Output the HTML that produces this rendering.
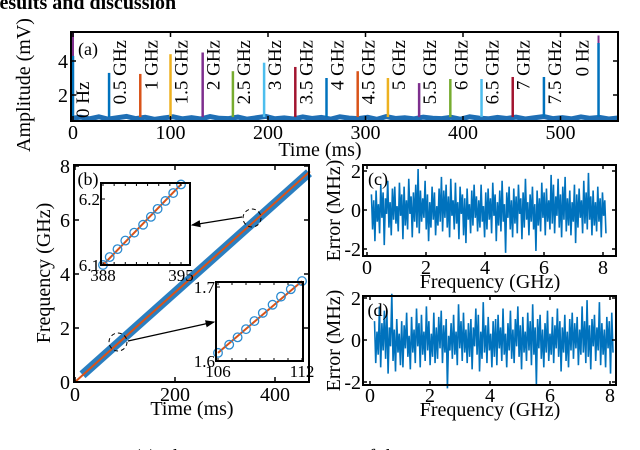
<!DOCTYPE html>
<html><head><meta charset="utf-8"><style>
html,body{margin:0;padding:0;background:#fff;width:640px;height:450px;overflow:hidden}
svg{display:block;font-family:"Liberation Serif",serif}
</style></head><body>
<svg id="fig" width="640" height="450" viewBox="0 0 640 450">
<text x="-15" y="9" font-size="20" font-weight="bold">Results and discussion</text>
<text x="134" y="463" font-size="20">(a) The … measurement … of the PD … DT in</text>
<g id="pa"></g>
<g id="pb"></g>
<g id="pc"></g>
<g id="pd"></g>
</svg>
<script>
// ---- Panel (a) data ----
const pulseTimes = [0, 37, 69, 100, 133, 164, 196, 228, 260, 292, 323, 355, 387, 419, 451, 483, 539];
const pulseHeights = [4.3, 3.3, 3.24, 4.4, 4.5, 3.4, 3.9, 3.65, 3.0, 3.4, 3.0, 2.7, 2.94, 2.94, 3.06, 3.06, 5.06];
const pulseLabels = ["0 Hz","0.5 GHz","1 GHz","1.5 GHz","2 GHz","2.5 GHz","3 GHz","3.5 GHz","4 GHz","4.5 GHz","5 GHz","5.5 GHz","6 GHz","6.5 GHz","7 GHz","7.5 GHz","0 Hz"];
const aXTicks = [0, 100, 200, 300, 400, 500];
const aYTicks = [2, 4];
const aNoise = [0.62,0.7,0.6,0.72,0.58,0.66,0.74,0.61,0.69,0.57,0.65,0.72,0.6,0.67,0.59,0.73,0.63,0.61,0.7,0.58,0.66,0.74,0.6,0.65,0.59,0.71,0.62,0.68,0.58,0.72,0.64,0.61,0.69,0.57,0.73,0.62,0.66,0.6,0.7,0.63,0.61,0.69,0.58,0.72,0.64,0.6,0.68,0.62,0.7,0.59,0.66,0.73,0.61,0.67,0.6,0.71,0.63,0.68,0.59,0.65];
// ---- Panel (b) data ----
const bLineT = [0, 470];
const bLineF = [0, 7.8];
const bBandT = [15, 468];
const bBandF = [0.27, 7.75];
const bXTicks = [0, 200, 400];
const bYTicks = [0, 2, 4, 6, 8];
const in1T = [388.0,388.6,389.3,390.0,390.8,391.6,392.3,392.9,393.6,394.3,395.0];
const in1F = [6.100,6.112,6.124,6.137,6.149,6.161,6.173,6.185,6.197,6.209,6.222];
const in2T = [106.0,106.8,107.4,108.0,108.6,109.2,109.9,110.5,111.2,112.0];
const in2F = [1.611,1.622,1.632,1.643,1.654,1.665,1.676,1.687,1.697,1.708];
// ---- Panel (c)/(d) data ----
const errFreqStart = 0.15, errFreqEnd = 8.1;
const errC = [0.8,-1.0,0.5,-1.6,1.0,-0.6,0.3,-1.2,1.3,-0.4,0.9,-1.8,0.6,-0.2,1.5,-0.9,0.4,-1.3,1.1,-0.5,1.2,-0.7,0.2,-1.1,1.4,-0.3,0.8,-1.5,1.2,-0.8,0.5,-1.0,1.6,-0.2,0.7,-1.4,0.9,-0.6,1.3,-0.9,2.1,-1.2,1.0,-0.6,0.6,-0.4,1.5,-1.0,0.8,-1.6,0.4,-0.9,1.2,-0.5,0.9,-1.3,0.2,-0.8,1.1,-0.6,1.7,-1.1,1.0,-0.4,1.3,-0.9,0.7,-1.4,1.6,-0.3,0.5,-1.0,1.4,-0.7,0.4,-1.5,1.2,-0.2,0.8,-1.3,0.6,-1.7,1.1,-0.5,0.3,-1.2,1.0,-0.8,1.3,-0.4,0.7,-1.1,0.5,-0.9,1.3,-0.6,0.2,-1.4,0.9,-1.0,1.1,-0.5,0.6,-1.2,1.4,-0.3,0.8,-1.6,0.4,-0.8,1.0,-1.1,1.5,-0.6,0.3,-2.2,0.9,-0.4,1.2,-1.0,0.5,-1.4,1.1,-0.7,0.7,-1.2,1.3,-0.2,0.6,-1.5,0.9,-0.9,1.6,-0.5,0.4,-1.3,0.8,-0.6,1.2,-1.0,0.3,-2.1,1.0,-0.8,0.6,-1.1,1.4,-0.4,0.9,-1.3,1.1,-0.6,0.5,-1.0,1.8,-0.7,1.3,-1.2,0.7,-0.3,1.6,-0.9,0.8,-1.4,1.2,-0.5,1.7,-1.1,0.6,-0.8,1.0,-1.3,0.4,-0.6,1.3,-1.7,0.8,-0.9,1.1,-0.4,0.5,-1.2,1.5,-0.7,0.9,-1.0,1.9,-0.5,0.7,-1.3,1.0,-0.8,0.4,-1.1,1.2,-0.6,0.6,-1.4,0.9,-0.3,0.5,-1.2];
const errD = [0.9,-1.1,0.4,-0.7,1.6,-1.3,0.8,-0.5,1.4,-0.9,1.4,-1.6,0.6,-0.3,2.2,-1.0,0.5,-1.5,1.0,-0.6,0.3,-1.2,0.9,-1.3,0.7,-0.4,1.3,-0.8,0.2,-1.4,1.1,-0.6,0.5,-1.1,1.5,-0.3,0.8,-1.3,1.2,-0.7,0.4,-1.0,1.6,-0.5,0.9,-1.2,0.3,-0.8,1.3,-1.1,0.6,-0.9,1.1,-0.4,1.4,-1.1,0.7,-0.6,1.0,-2.3,0.2,-0.5,0.8,-0.9,1.2,-0.7,0.4,-1.2,1.7,-0.4,0.9,-1.0,1.3,-0.6,0.5,-1.1,0.8,-0.8,1.0,-1.4,0.6,-0.3,1.5,-0.7,1.2,-1.5,0.4,-0.9,1.8,-0.6,0.7,-1.1,1.1,-0.5,0.3,-1.3,0.9,-0.8,1.0,-1.2,1.2,-0.4,0.6,-1.0,1.5,-0.7,0.3,-1.3,0.8,-0.5,1.4,-0.9,0.5,-1.1,1.0,-0.3,1.6,-0.8,0.7,-1.4,1.1,-0.6,0.4,-1.0,1.3,-0.5,0.9,-1.2,1.7,-0.7,0.6,-2.1,1.0,-0.4,1.2,-0.9,0.5,-1.3,0.8,-0.6,1.4,-1.0,0.3,-0.7,1.1,-1.1,0.7,-0.4,1.5,-0.8,0.9,-1.5,0.6,-0.6,1.2,-1.0,0.4,-1.3,1.0,-0.5,1.3,-0.9,0.8,-0.4,1.1,-1.2,0.5,-0.7,1.6,-0.6,0.9,-1.1,1.9,-0.8,0.7,-1.4,1.0,-0.3,1.2,-1.0,0.6,-0.5,1.8,-1.2,0.8,-0.7,0.5,-1.3,1.1,-0.4,0.9,-1.6,1.3,-0.6];

const NS = "http://www.w3.org/2000/svg";
const colors = ["#0072BD","#0072BD","#D95319","#EDB120","#7E2F8E","#77AC30","#4DBEEE","#A2142F","#0072BD","#D95319","#EDB120","#7E2F8E","#77AC30","#4DBEEE","#A2142F","#0072BD","#0072BD"];
function mk(parent, tag, attrs, txt){
  const e = document.createElementNS(NS, tag);
  for (const k in attrs) e.setAttribute(k, attrs[k]);
  if (txt !== undefined) e.textContent = txt;
  parent.appendChild(e);
  return e;
}
function axisBox(g, x0, y0, x1, y1, name){
  const r = mk(g, "rect", {x:x0, y:y0, width:x1-x0, height:y1-y0, fill:"none", stroke:"#000", "stroke-width":2});
  
  
}
function txt(g, x, y, s, size, anchor, name, rot){
  const t = mk(g, "text", {x:x, y:y, "font-size":size, "text-anchor":anchor||"middle"}, s);
  if (rot) t.setAttribute("transform", "rotate(-90 " + x + " " + y + ")");
  
  
  return t;
}

// ===== Panel (a) =====
(function(){
  const g = document.getElementById("pa");
  const L=71, R=618, T=32, B=121;
  const xa = t => 73 + t*0.975;
  const ya = v => 61 - (v-4)*17;
  let pts = aNoise.map((v,i)=> (L + (R-L)*i/(aNoise.length-1)) + "," + ya(v)).join(" ");
  const nb = mk(g, "polyline", {points:pts, fill:"none", stroke:"#1f6fb5", "stroke-width":5});
  
  
  pulseTimes.forEach((t,i)=>{
    const x = xa(t);
    if (i===0 || i===pulseTimes.length-1){
      const p2 = mk(g, "line", {x1:x, x2:x, y1:ya(0.7), y2:ya(i===0?5.7:5.5), stroke:"#7E2F8E", "stroke-width":2});
      
      
    }
    const p = mk(g, "line", {x1:x, x2:x, y1:ya(0.7), y2:ya(pulseHeights[i]), stroke:colors[i], "stroke-width":2.5});
    
    
    let lx = x + 17, ly = 40;
    if (i===0){ lx = 89; ly = 118; ly = 75 + 43; }
    if (i===pulseTimes.length-1){ lx = x - 10; }
    const t0 = txt(g, lx, ly, pulseLabels[i], 19, i===0 ? "start" : "end", "pulse-label", true);
  });
  axisBox(g, L, T, R, B, "axis-box-a");
  aXTicks.forEach(v=>{
    const x = xa(v);
    mk(g, "line", {x1:x,x2:x,y1:B,y2:B-5,stroke:"#000","stroke-width":1.5});
    mk(g, "line", {x1:x,x2:x,y1:T,y2:T+5,stroke:"#000","stroke-width":1.5});
    txt(g, x, 139, String(v), 20, "middle", "x-tick-label");
  });
  aYTicks.forEach(v=>{
    const y = ya(v);
    mk(g, "line", {x1:L,x2:L+5,y1:y,y2:y,stroke:"#000","stroke-width":1.5});
    mk(g, "line", {x1:R,x2:R-5,y1:y,y2:y,stroke:"#000","stroke-width":1.5});
    txt(g, L-3, y+7, String(v), 20, "end", "y-tick-label");
  });
  txt(g, 88, 55, "(a)", 18, "middle", "panel-label-a");
  txt(g, 320, 156, "Time (ms)", 20, "middle", "x-axis-title-a");
  txt(g, 30, 85, "Amplitude (mV)", 20, "middle", "y-axis-title-a", true);
})();

// ===== Panel (b) =====
(function(){
  const g = document.getElementById("pb");
  const L=74, R=309, T=165, B=382;
  const xb = t => 75 + t*0.5;
  const yb = f => 382 - f*27;
  const band = mk(g, "line", {x1:xb(bBandT[0]), y1:yb(bBandF[0]), x2:xb(bBandT[1]), y2:yb(bBandF[1]), stroke:"#2a7fc1", "stroke-width":9});
  
  
  const fit = mk(g, "line", {x1:xb(bLineT[0]), y1:yb(bLineF[0]), x2:xb(bLineT[1]), y2:yb(bLineF[1]), stroke:"#D95319", "stroke-width":2});
  
  
  axisBox(g, L, T, R, B, "axis-box-b");
  bXTicks.forEach(v=>{
    const x = xb(v);
    mk(g, "line", {x1:x,x2:x,y1:B,y2:B-5,stroke:"#000","stroke-width":1.5});
    mk(g, "line", {x1:x,x2:x,y1:T,y2:T+5,stroke:"#000","stroke-width":1.5});
    txt(g, x, 401, String(v), 20, "middle", "x-tick-label");
  });
  bYTicks.forEach(v=>{
    const y = yb(v);
    mk(g, "line", {x1:L,x2:L+5,y1:y,y2:y,stroke:"#000","stroke-width":1.5});
    mk(g, "line", {x1:R,x2:R-5,y1:y,y2:y,stroke:"#000","stroke-width":1.5});
    txt(g, L-4, y+7, String(v), 20, "end", "y-tick-label");
  });
  txt(g, 88, 185, "(b)", 18, "middle", "panel-label-b");
  txt(g, 192, 415, "Time (ms)", 20, "middle", "x-axis-title-b");
  txt(g, 50, 273, "Frequency (GHz)", 20, "middle", "y-axis-title-b", true);
  [[252,218],[118,342]].forEach(c=>{
    const e = mk(g, "circle", {cx:c[0], cy:c[1], r:9, fill:"none", stroke:"#000", "stroke-width":1, "stroke-dasharray":"4,3"});
    
    
  });
  mk(g, "defs", {}).innerHTML = '<marker id="ah" markerWidth="8" markerHeight="8" refX="7" refY="4" orient="auto"><path d="M0,1 L8,4 L0,7 Z" fill="#000"/></marker>';
  [[242,217,192,225],[128,341,214,322]].forEach(a=>{
    const l = mk(g, "line", {x1:a[0],y1:a[1],x2:a[2],y2:a[3],stroke:"#000","stroke-width":1.2,"marker-end":"url(#ah)"});
    
    
  });
  function inset(box, xr, yr, ts, fs, xt, yt, nm){
    const [l,t,r,b] = box;
    const sx = v => xr[2] + (v - xr[0])*(xr[3]-xr[2])/(xr[1]-xr[0]);
    const sy = v => yr[2] + (v - yr[0])*(yr[3]-yr[2])/(yr[1]-yr[0]);
    mk(g, "rect", {x:l,y:t,width:r-l,height:b-t,fill:"#fff",stroke:"none"});
    const ln = mk(g, "line", {x1:sx(ts[0]), y1:sy(fs[0]), x2:sx(ts[ts.length-1]), y2:sy(fs[fs.length-1]), stroke:"#D95319", "stroke-width":2});
    
    
    ts.forEach((v,i)=>{
      const c = mk(g, "circle", {cx:sx(v), cy:sy(fs[i]), r:4.3, fill:"none", stroke:"#2a8ad0", "stroke-width":1.3});
      
      
    });
    axisBox(g, l, t, r, b, nm + "-box");
    for (let v = Math.ceil(xt[0]); v <= xt[1]; v++){
      const x = sx(v);
      mk(g, "line", {x1:x,x2:x,y1:b,y2:b-3,stroke:"#000","stroke-width":1});
      mk(g, "line", {x1:x,x2:x,y1:t,y2:t+3,stroke:"#000","stroke-width":1});
    }
    txt(g, sx(xt[0]), b+16, String(xt[0]), 17, "middle", "inset-x-tick-label");
    txt(g, sx(xt[1]), b+16, String(xt[1]), 17, "middle", "inset-x-tick-label");
    yt.forEach(v=>{
      const y = sy(v);
      mk(g, "line", {x1:l,x2:l+4,y1:y,y2:y,stroke:"#000","stroke-width":1});
      txt(g, l-1, y+6, v.toFixed(1), 17, "end", "inset-y-tick-label");
    });
  }
  inset([101,183,190,265], [388,395,103,181], [6.1,6.2,265,199], in1T, in1F, [388,395], [6.1,6.2], "inset-1");
  inset([216,282,303,361], [106,112,218,302], [1.6,1.7,361,287], in2T, in2F, [106,112], [1.6,1.7], "inset-2");
})();

// ===== Panels (c) & (d) =====
function errPanel(id, vals, box, x0, xs, y0, ys, lbl, titleY, tickY){
  const g = document.getElementById(id);
  const [L,T,R,B] = box;
  const xm = f => x0 + f*xs;
  const ym = v => y0 - v*ys;
  const n = vals.length;
  const pts = vals.map((v,i)=> xm(errFreqStart + (errFreqEnd-errFreqStart)*i/(n-1)) + "," + ym(v)).join(" ");
  const pl = mk(g, "polyline", {points:pts, fill:"none", stroke:"#0072BD", "stroke-width":1.6});
  
  
  axisBox(g, L, T, R, B, "axis-box-" + lbl);
  [0,2,4,6,8].forEach(v=>{
    const x = xm(v);
    mk(g, "line", {x1:x,x2:x,y1:B,y2:B-4,stroke:"#000","stroke-width":1.5});
    mk(g, "line", {x1:x,x2:x,y1:T,y2:T+4,stroke:"#000","stroke-width":1.5});
    txt(g, x, tickY, String(v), 20, "middle", "x-tick-label");
  });
  [-2,0,2].forEach(v=>{
    const y = ym(v);
    mk(g, "line", {x1:L,x2:L+4,y1:y,y2:y,stroke:"#000","stroke-width":1.5});
    mk(g, "line", {x1:R,x2:R-4,y1:y,y2:y,stroke:"#000","stroke-width":1.5});
    txt(g, L-2, y+7, String(v), 20, "end", "y-tick-label");
  });
  txt(g, L+15, T+20, "(" + lbl + ")", 18, "middle", "panel-label-" + lbl);
  txt(g, 490, titleY, "Frequency (GHz)", 20, "middle", "x-axis-title-" + lbl);
  txt(g, 340, (T+B)/2, "Error (MHz)", 20, "middle", "y-axis-title-" + lbl, true);
}
errPanel("pc", errC, [363,165,616,256], 367, 29.5, 210, 19.5, "c", 288, 274);
errPanel("pd", errD, [363,296,616,385], 370, 30, 340, 21, "d", 416, 402);
</script>
</body></html>
